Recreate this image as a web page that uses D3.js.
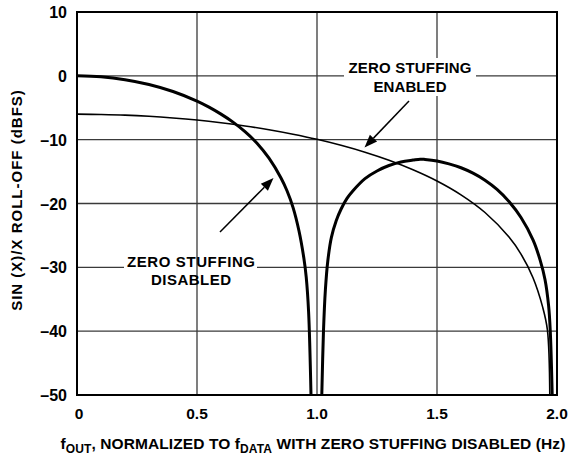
<!DOCTYPE html>
<html>
<head>
<meta charset="utf-8">
<script src="https://cdn.jsdelivr.net/npm/d3@7"></script>
<style>
  html, body { margin: 0; padding: 0; background: #fff; }
  svg { display: block; }
  text { font-family: "Liberation Sans", Arial, sans-serif; font-weight: bold; fill: #000; }
</style>
</head>
<body>
<svg id="chart" width="580" height="459"></svg>
<script>
// ---- data ----
const xTicks = [0, 0.5, 1.0, 1.5, 2.0];
const xTickLabels = ["0", "0.5", "1.0", "1.5", "2.0"];
const yTicks = [10, 0, -10, -20, -30, -40, -50];
const yTickLabels = ["10", "0", "–10", "–20", "–30", "–40", "–50"];

// Zero stuffing disabled (thick) : two branches separated by the null near 1.0
const disabledF1  = [0, 0.1, 0.2, 0.3, 0.4, 0.5, 0.55, 0.6, 0.65, 0.7, 0.75, 0.8, 0.85, 0.875, 0.9, 0.925, 0.945, 0.955, 0.965, 0.975];
const disabledDb1 = [0, -0.15, -0.6, -1.35, -2.45, -3.95, -4.9, -6.0, -7.25, -8.75, -10.55, -12.9, -16.0, -18.0, -20.6, -24.3, -28.5, -31.5, -37, -50];
const disabledF2  = [1.02, 1.027, 1.035, 1.045, 1.06, 1.08, 1.1, 1.125, 1.15, 1.2, 1.25, 1.3, 1.35, 1.4, 1.43, 1.45, 1.5, 1.55, 1.6, 1.65, 1.7, 1.75, 1.8, 1.85, 1.9, 1.93, 1.95, 1.965, 1.972, 1.98];
const disabledDb2 = [-50, -40, -33.5, -29, -25.3, -22.7, -20.9, -19.2, -18.0, -16.1, -14.9, -14.05, -13.5, -13.2, -13.05, -13.1, -13.35, -13.8, -14.4, -15.25, -16.35, -17.8, -19.7, -22.2, -25.7, -28.9, -31.9, -36, -40, -50];

// Zero stuffing enabled (thin)
const enabledF  = [0, 0.1, 0.2, 0.3, 0.4, 0.5, 0.6, 0.7, 0.8, 0.9, 1.0, 1.1, 1.2, 1.3, 1.4, 1.5, 1.6, 1.7, 1.8, 1.85, 1.9, 1.94, 1.96, 1.97];
const enabledDb = [-6.0, -6.06, -6.16, -6.34, -6.6, -6.93, -7.35, -7.85, -8.44, -9.14, -9.94, -10.88, -11.96, -13.22, -14.71, -16.47, -18.64, -21.41, -25.25, -27.92, -31.63, -36.2, -39.8, -50];

const labelEnabled = ["ZERO STUFFING", "ENABLED"];
const labelDisabled = ["ZERO STUFFING", "DISABLED"];

// ---- drawing ----
const svg = d3.select("#chart");
const L = 77, R = 557, T = 12, B = 395;
const x = d3.scaleLinear().domain([0, 2]).range([L, R]);
const y = d3.scaleLinear().domain([-50, 10]).range([B, T]);

const gridColor = "#3a3a3a";

// horizontal grid
svg.append("g").selectAll("line").data(yTicks.filter(v => v > -50 && v < 10)).join("line")
  .attr("x1", L).attr("x2", R).attr("y1", d => y(d)).attr("y2", d => y(d))
  .attr("stroke", gridColor).attr("stroke-width", 1.3);

// mask: disabled label interrupts the -30 gridline only
svg.append("rect").attr("x", 124).attr("y", y(-30) - 3).attr("width", 133).attr("height", 6).attr("fill", "#fff");

// vertical grid
svg.append("g").selectAll("line").data(xTicks.filter(v => v > 0 && v < 2)).join("line")
  .attr("x1", d => x(d)).attr("x2", d => x(d)).attr("y1", T).attr("y2", B)
  .attr("stroke", gridColor).attr("stroke-width", 1.3);

// mask behind enabled label
svg.append("rect").attr("x", 344).attr("y", 58).attr("width", 132).attr("height", 38).attr("fill", "#fff");

// curves
const line = d3.line().x(d => x(d[0])).y(d => y(d[1])).curve(d3.curveCatmullRom.alpha(0.5));
const zip = (a, b) => a.map((v, i) => [v, b[i]]);

svg.append("path").attr("d", line(zip(enabledF, enabledDb)))
  .attr("fill", "none").attr("stroke", "#000").attr("stroke-width", 1.6);
svg.append("path").attr("d", line(zip(disabledF1, disabledDb1)))
  .attr("fill", "none").attr("stroke", "#000").attr("stroke-width", 3);
svg.append("path").attr("d", line(zip(disabledF2, disabledDb2)))
  .attr("fill", "none").attr("stroke", "#000").attr("stroke-width", 3);

// frame
svg.append("rect").attr("x", L).attr("y", T).attr("width", R - L).attr("height", B - T)
  .attr("fill", "none").attr("stroke", "#000").attr("stroke-width", 2);

// tick labels
svg.append("g").selectAll("text").data(yTicks).join("text")
  .attr("x", 67).attr("y", d => y(d) + 6).attr("text-anchor", "end")
  .style("font-size", "16px").text((d, i) => yTickLabels[i]);
svg.append("g").selectAll("text").data(xTicks).join("text")
  .attr("x", d => x(d) + (d === 0 ? 2 : 0)).attr("y", 419).attr("text-anchor", "middle")
  .style("font-size", "15.5px").text((d, i) => xTickLabels[i]);

// axis titles
svg.append("text").attr("transform", "translate(21.5,200) rotate(-90)")
  .attr("text-anchor", "middle").style("font-size", "15px").style("letter-spacing", "1px")
  .text("SIN (X)/X ROLL-OFF (dBFS)");

const xt = svg.append("text").attr("x", 313).attr("y", 448.5).attr("text-anchor", "middle")
  .style("font-size", "15.5px").style("letter-spacing", "0.1px");
xt.append("tspan").text("f");
xt.append("tspan").attr("dy", 4).style("font-size", "12px").text("OUT");
xt.append("tspan").attr("dy", -4).text(", NORMALIZED TO f");
xt.append("tspan").attr("dy", 4).style("font-size", "12px").text("DATA");
xt.append("tspan").attr("dy", -4).text(" WITH ZERO STUFFING DISABLED (Hz)");

// annotations
const ann = (lines, cx, y0, widths) => {
  svg.append("g").selectAll("text").data(lines).join("text")
    .attr("x", cx).attr("y", (d, i) => y0 + i * 18.4).attr("text-anchor", "middle")
    .attr("textLength", (d, i) => widths[i]).attr("lengthAdjust", "spacing")
    .style("font-size", "15px").text(d => d);
};
ann(labelEnabled, 410, 73.3, [123, 73]);
ann(labelDisabled, 191, 266.7, [128, 80]);

// arrows
const arrow = (x1, y1, x2, y2) => {
  const ang = Math.atan2(y2 - y1, x2 - x1);
  const len = 13, w = 5;
  const bx = x2 - len * Math.cos(ang), by = y2 - len * Math.sin(ang);
  svg.append("line").attr("x1", x1).attr("y1", y1).attr("x2", bx).attr("y2", by)
    .attr("stroke", "#000").attr("stroke-width", 1.5);
  const px = -Math.sin(ang) * w, py = Math.cos(ang) * w;
  svg.append("path").attr("d", `M${x2},${y2}L${bx + px},${by + py}L${bx - px},${by - py}Z`).attr("fill", "#000");
};
arrow(409, 101, 364.5, 147.5);
arrow(220, 232, 273.5, 178);
</script>
</body>
</html>
